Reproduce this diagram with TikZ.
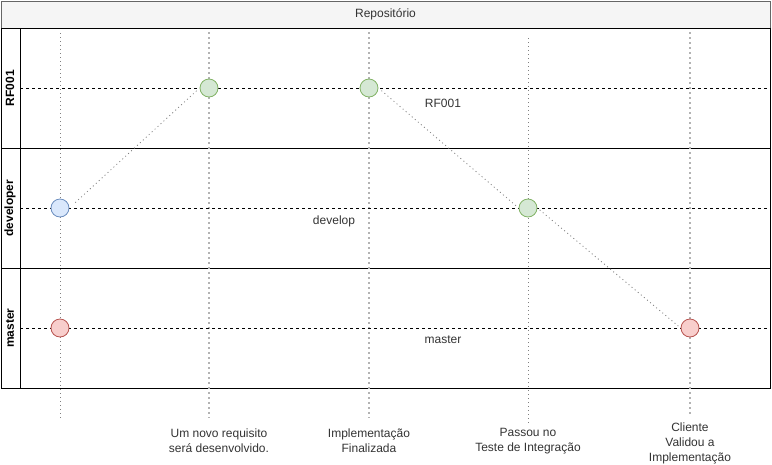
\documentclass[tikz,border=0pt]{standalone}
\usepackage{fontspec}
\setmainfont{Liberation Sans}
\definecolor{hdrfill}{HTML}{F5F5F5}
\definecolor{hdrdraw}{HTML}{666666}
\definecolor{gfill}{HTML}{D5E8D4}\definecolor{gdraw}{HTML}{82B366}
\definecolor{bfill}{HTML}{DAE8FC}\definecolor{bdraw}{HTML}{6C8EBF}
\definecolor{rfill}{HTML}{F8CECC}\definecolor{rdraw}{HTML}{B85450}
\definecolor{txt}{HTML}{333333}
\definecolor{lightdot}{HTML}{B3B3B3}
\definecolor{darkdot}{HTML}{808080}
\begin{document}
\begin{tikzpicture}[x=1pt,y=-1pt,
  every node/.style={font=\fontsize{12}{14}\selectfont, text=txt, inner sep=0pt},
  hdr/.style={draw=hdrdraw, fill=hdrfill, line width=1pt, minimum width=769pt, minimum height=27pt},
  lane/.style={draw=black, line width=1pt, minimum width=769pt, minimum height=120pt},
  lanelabel/.style={rotate=90, font=\fontsize{12}{14}\selectfont\bfseries, text=black},
  commit/.style={circle, line width=0.8pt, minimum size=18pt},
  gcommit/.style={commit, draw=gdraw, fill=gfill},
  bcommit/.style={commit, draw=bdraw, fill=bfill},
  rcommit/.style={commit, draw=rdraw, fill=rfill},
  branchline/.style={draw=black, line width=0.9pt, dash pattern=on 3pt off 3pt},
  fineguide/.style={draw=darkdot, line width=1pt, dash pattern=on 1pt off 3pt},
  wideguide/.style={draw=lightdot, line width=2pt, dash pattern=on 2pt off 3pt},
  merge/.style={draw=darkdot, line width=0.8pt, dash pattern=on 1pt off 3pt},
  caption/.style={align=center, font=\fontsize{12}{15}\selectfont}
]
\useasboundingbox (0,0) rectangle (772,464);

% pool
\node[hdr] (hdr) at (385.5,14.5) {Repositório};
\node[lane] (laneA) at (385.5,88) {};
\node[lane] (laneB) at (385.5,208) {};
\node[lane] (laneC) at (385.5,328) {};
\draw[line width=1pt] (20,28) -- (20,388);
\node[lanelabel] (labA) at (10,88) {RF001};
\node[lanelabel] (labB) at (10,208) {developer};
\node[lanelabel] (labC) at (10,328) {master};

% guide coordinates
\coordinate (g1t) at (60,33);  \coordinate (g1b) at (60,420);
\coordinate (g2t) at (209,32); \coordinate (g2b) at (209,418);
\coordinate (g3t) at (369,32); \coordinate (g3b) at (369,418);
\coordinate (g4t) at (528,38); \coordinate (g4b) at (528,424);
\coordinate (g5t) at (690,32); \coordinate (g5b) at (690,416);
\draw[fineguide] (g1t) -- (g1b);
\draw[wideguide] (g2t) -- (g2b);
\draw[wideguide] (g3t) -- (g3b);
\draw[fineguide] (g4t) -- (g4b);
\draw[wideguide] (g5t) -- (g5b);

% branch lines
\coordinate (bAl) at (20,88);  \coordinate (bAr) at (770,88);
\coordinate (bBl) at (20,208); \coordinate (bBr) at (770,208);
\coordinate (bCl) at (20,328); \coordinate (bCr) at (770,328);
\draw[branchline] (bAl) -- (bAr);
\draw[branchline] (bBl) -- (bBr);
\draw[branchline] (bCl) -- (bCr);

% branch labels
\node (tA) at (443,103) {RF001};
\node (tB) at (334,221) {develop};
\node (tC) at (443,340) {master};

% commits
\node[bcommit] (c1) at (60,208) {};
\node[gcommit] (c2) at (209,88) {};
\node[gcommit] (c3) at (369,88) {};
\node[gcommit] (c4) at (528,208) {};
\node[rcommit] (c5) at (60,328) {};
\node[rcommit] (c6) at (690,328) {};

% merges
\draw[merge, shorten <=8pt, shorten >=3pt] (c1.east) -- (c2.west);
\draw[merge, shorten <=4pt, shorten >=3pt] (c3.east) -- (c4.west);
\draw[merge, shorten <=3pt, shorten >=3pt] (c4.east) -- (c6.west);

% captions
\node[caption] (k1) at (219,441) {Um novo requisito\\será desenvolvido.};
\node[caption] (k2) at (369,441) {Implementação\\Finalizada};
\node[caption] (k3) at (528,441) {Passou no\\Teste de Integração};
\node[caption] (k4) at (690,443) {Cliente\\Validou a\\Implementação};
\end{tikzpicture}
\end{document}
